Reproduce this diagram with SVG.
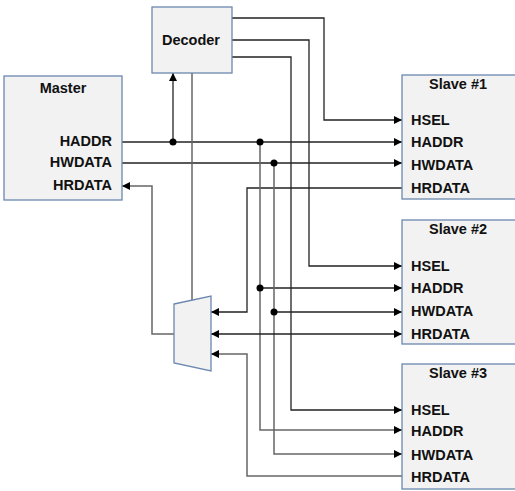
<svg xmlns="http://www.w3.org/2000/svg" width="515" height="491" viewBox="0 0 515 491">
<style>
.box{fill:#f2f2f2;stroke:#6b87b0;stroke-width:1.3}
.t{font-family:"Liberation Sans",Arial,sans-serif;font-weight:bold;font-size:14.5px;fill:#111}
.w{fill:none;stroke:#222;stroke-width:1.3}
.g{fill:none;stroke:#666;stroke-width:1.5}
.dot{fill:#000}
</style>
<defs>
<marker id="a" viewBox="0 0 10 10" refX="10" refY="5" markerWidth="8" markerHeight="8" markerUnits="userSpaceOnUse" orient="auto-start-reverse">
<path d="M0,0 L10,5 L0,10 z" fill="#000"/>
</marker>
</defs>
<rect width="515" height="491" fill="#fff"/>
<g id="connectors">
<polyline class="w" points="232,18 324,18 324,120 402,120" marker-end="url(#a)"/>
<polyline class="w" points="232,40 309,40 309,266 402,266" marker-end="url(#a)"/>
<polyline class="w" points="232,57 291,57 291,410 402,410" marker-end="url(#a)"/>
<polyline class="w" points="122,142 402,142" marker-end="url(#a)"/>
<polyline class="w" points="173,142 173,73" marker-end="url(#a)"/>
<polyline class="w" points="122,163 402,163" marker-end="url(#a)"/>
<polyline class="w" points="402,188 247,188 247,312 211,312" marker-end="url(#a)"/>
<polyline class="g" points="260,142 260,430 402,430" marker-end="url(#a)"/>
<polyline class="w" points="260,288 402,288" marker-end="url(#a)"/>
<polyline class="g" points="274,163 274,454 402,454" marker-end="url(#a)"/>
<polyline class="w" points="274,312 402,312" marker-end="url(#a)"/>
<polyline class="w" points="211,334 402,334" marker-start="url(#a)" marker-end="url(#a)"/>
<polyline class="g" points="402,476 247,476 247,354 211,354" marker-end="url(#a)"/>
<polyline class="g" points="174,334 152,334 152,186 122,186" marker-end="url(#a)"/>
<polyline class="g" points="192,73 192,300"/>
<circle class="dot" cx="173" cy="142" r="3.5"/>
<circle class="dot" cx="260" cy="142" r="3.5"/>
<circle class="dot" cx="274" cy="163" r="3.5"/>
<circle class="dot" cx="260" cy="288" r="3.5"/>
<circle class="dot" cx="274" cy="312" r="3.5"/>
</g>
<g id="decoder">
<rect class="box" x="152" y="7" width="80" height="66"/>
<text class="t" x="191" y="45" text-anchor="middle">Decoder</text>
</g>
<g id="master">
<rect class="box" x="4" y="76" width="118" height="124"/>
<text class="t" x="63" y="93" text-anchor="middle">Master</text>
<text class="t" x="112" y="146" text-anchor="end">HADDR</text>
<text class="t" x="112" y="167" text-anchor="end">HWDATA</text>
<text class="t" x="112" y="190" text-anchor="end">HRDATA</text>
</g>
<g id="mux">
<polygon class="box" points="174,304 211,296 211,371 174,363"/>
</g>
<g id="slave1">
<rect class="box" x="402" y="75" width="116" height="124"/>
<text class="t" x="458" y="89" text-anchor="middle">Slave #1</text>
<text class="t" x="411" y="125">HSEL</text>
<text class="t" x="411" y="147">HADDR</text>
<text class="t" x="411" y="170">HWDATA</text>
<text class="t" x="411" y="193">HRDATA</text>
</g>
<g id="slave2">
<rect class="box" x="402" y="220" width="116" height="124"/>
<text class="t" x="458" y="234" text-anchor="middle">Slave #2</text>
<text class="t" x="411" y="271">HSEL</text>
<text class="t" x="411" y="293">HADDR</text>
<text class="t" x="411" y="316">HWDATA</text>
<text class="t" x="411" y="339">HRDATA</text>
</g>
<g id="slave3">
<rect class="box" x="402" y="364" width="116" height="125"/>
<text class="t" x="458" y="378" text-anchor="middle">Slave #3</text>
<text class="t" x="411" y="415">HSEL</text>
<text class="t" x="411" y="436">HADDR</text>
<text class="t" x="411" y="460">HWDATA</text>
<text class="t" x="411" y="482">HRDATA</text>
</g>
</svg>
